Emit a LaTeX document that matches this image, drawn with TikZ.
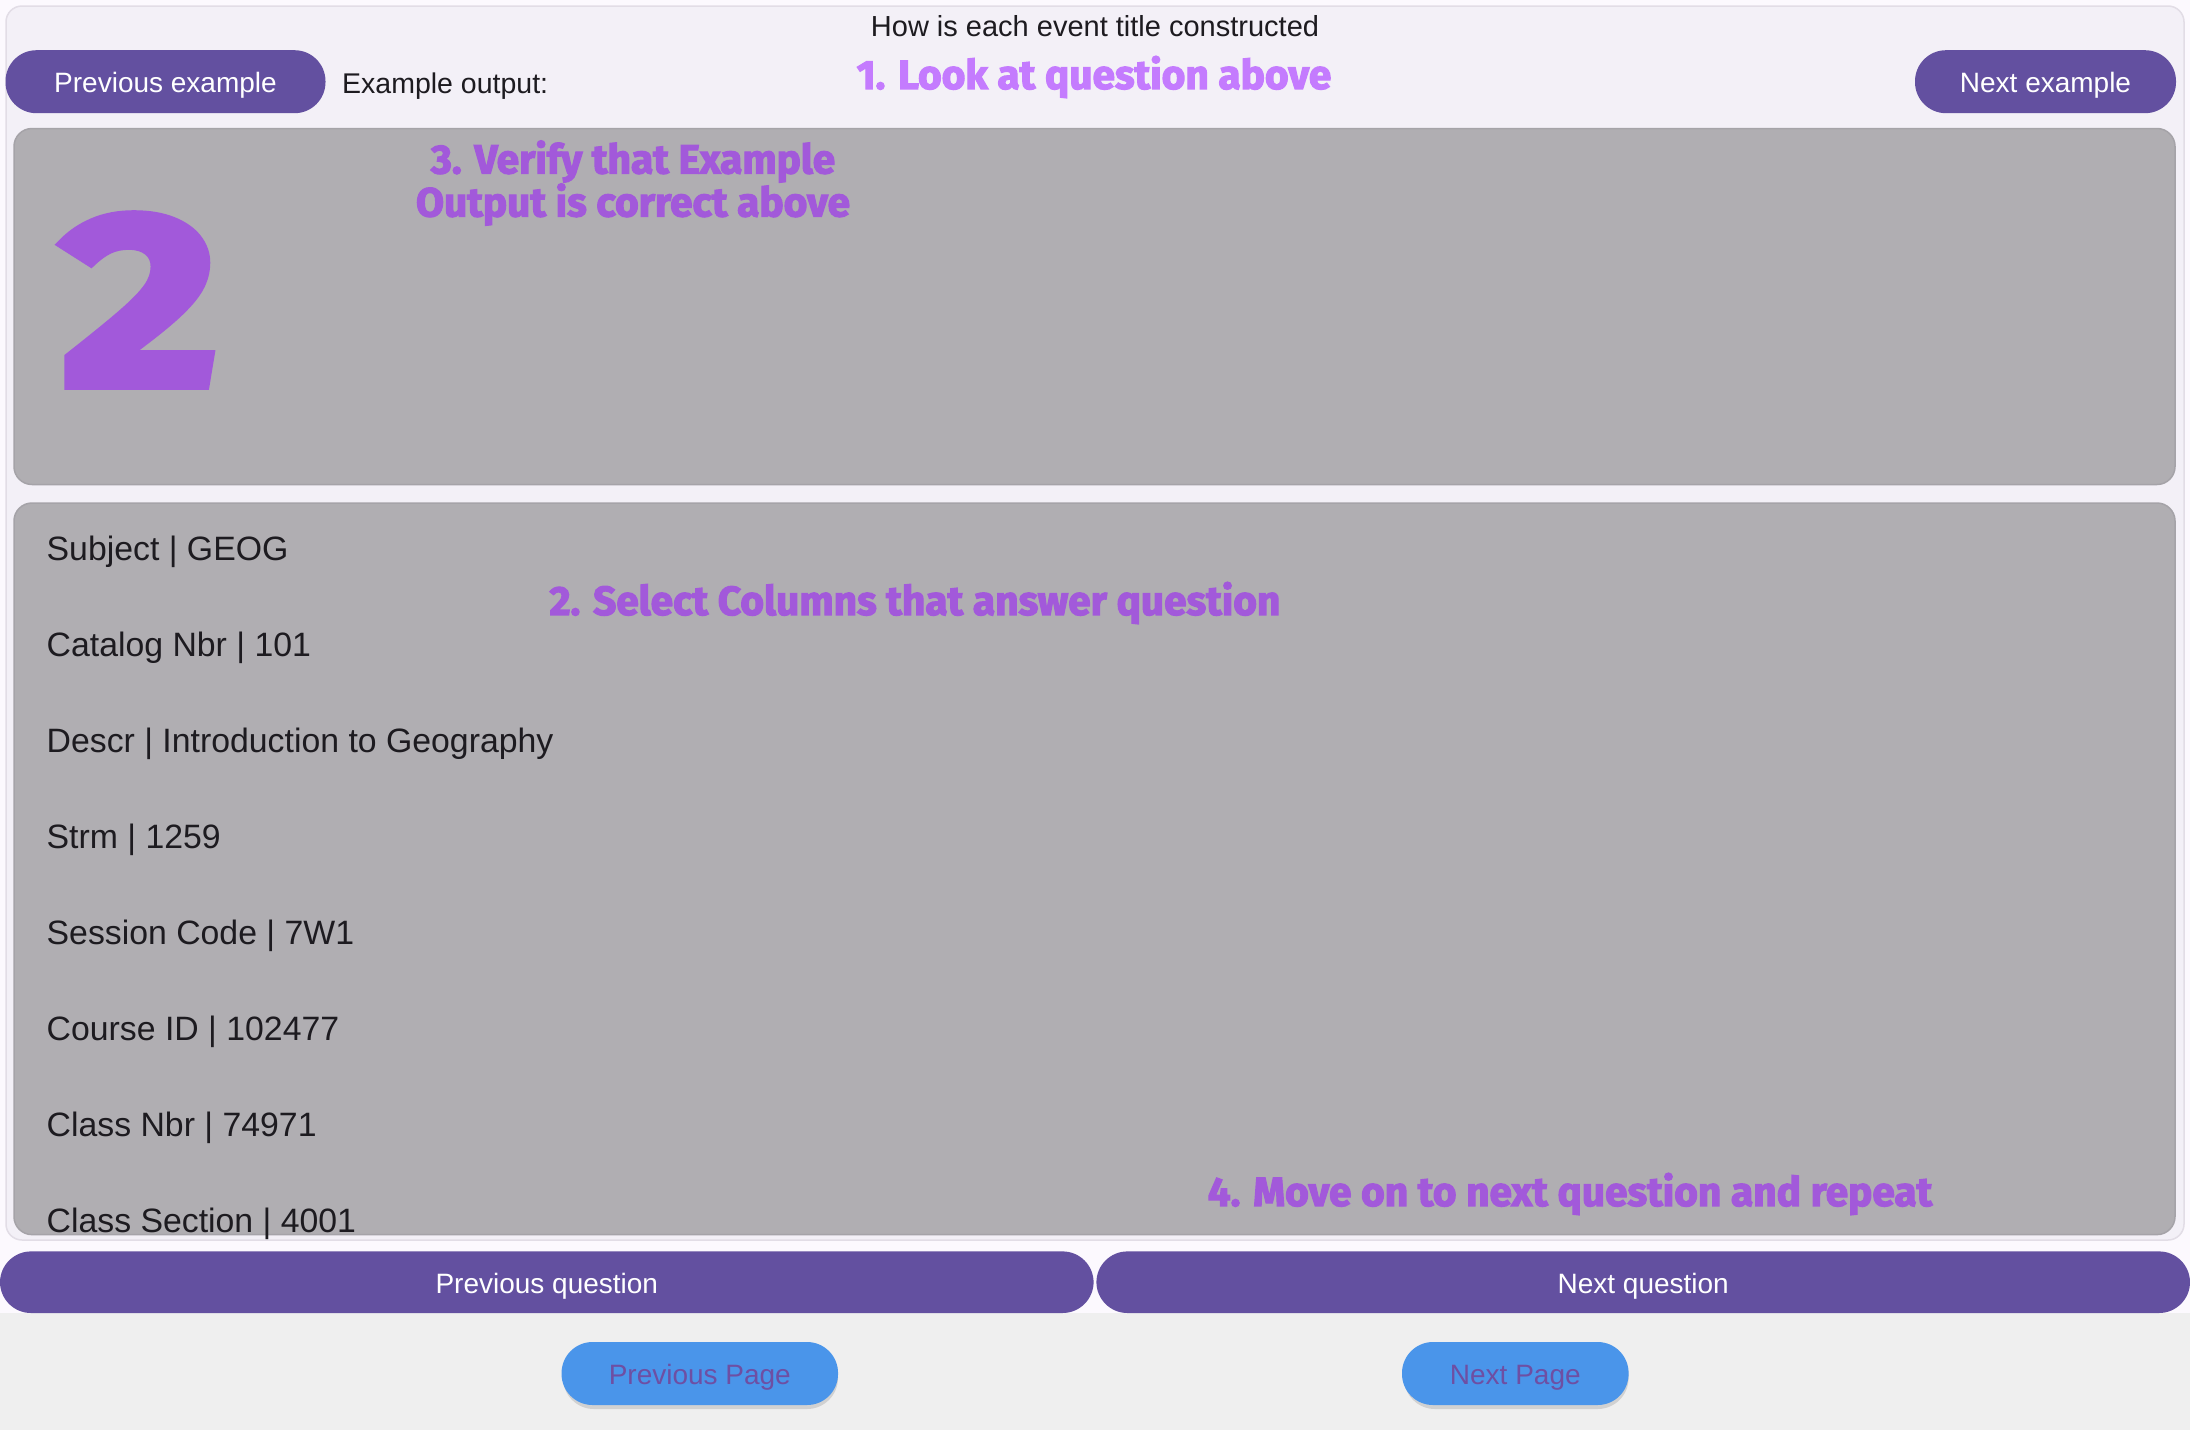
\documentclass[tikz,border=0pt]{standalone}
\usepackage{fontspec}
\setmainfont{Liberation Sans}
\newfontfamily\heavy{Fira Sans}[BoldFeatures={FakeBold=3}]
\newfontfamily\heavywide{Fira Sans}[BoldFeatures={FakeBold=4,FakeStretch=1.25}]
\definecolor{topbg}{HTML}{FCF9FE}
\definecolor{cardbg}{HTML}{F3F0F7}
\definecolor{cardline}{HTML}{E2DDE6}
\definecolor{panelbg}{HTML}{B0AEB2}
\definecolor{panelline}{HTML}{A5A3A8}
\definecolor{btn}{HTML}{6350A0}
\definecolor{ovl}{HTML}{A259DA}
\definecolor{ovllight}{HTML}{C47BFE}
\definecolor{botbg}{HTML}{EFEFEF}
\definecolor{pagebtn}{HTML}{4A95EA}
\definecolor{pagetxt}{HTML}{6E4FA3}
\definecolor{ink}{HTML}{1D1B20}
\tikzset{
  pill/.style={rectangle, rounded corners=31pt, fill=btn, text=white, inner sep=0pt,
    font=\fontsize{28}{32}\selectfont, text height=22pt, text depth=0pt},
  panelbox/.style={rectangle, rounded corners=18pt, fill=panelbg, draw=panelline, line width=1.5pt, inner sep=0pt},
  rowtext/.style={anchor=base west, text=ink, inner sep=0pt, font=\fontsize{33.8}{38}\selectfont},
  overlay/.style={text=ovl, inner sep=0pt, align=center, font=\heavy\bfseries\fontsize{40.6}{42}\selectfont},
  pagebox/.style={rectangle, rounded corners=31pt, fill=pagebtn, text=pagetxt, inner sep=0pt,
    font=\fontsize{28}{32}\selectfont, minimum height=63pt, text height=22pt, text depth=0pt},
}
\begin{document}
\begin{tikzpicture}[x=1pt,y=-1pt]
\useasboundingbox (0,0) rectangle (2190,1430);
% backgrounds
\fill[topbg] (0,0) rectangle (2190,1430);
\fill[botbg] (0,1313) rectangle (2190,1430);
\filldraw[fill=cardbg, draw=cardline, line width=1.5pt, rounded corners=16pt] (6,6) rectangle (2184,1240);
% header
\node[text=ink, inner sep=0pt, font=\fontsize{29}{32}\selectfont] (title) at (1095,26.5) {How is each event title constructed};
\node[pill, minimum width=320pt, minimum height=63pt] (prevex) at (165.5,81.7) {Previous example};
\node[anchor=base west, text=ink, inner sep=0pt, font=\fontsize{28.5}{32}\selectfont] (exout) at (342,93) {Example output:};
\node[pill, minimum width=261pt, minimum height=63pt] (nextex) at (2045.5,81.7) {Next example};
\node[overlay, text=ovllight] (look) at (1094,77) {1. Look at question above};
% example output panel
\node[panelbox, minimum width=2161pt, minimum height=356pt] (panelA) at (1094.5,306.5) {};
\node[overlay] (verify) at (633,183) {3. Verify that Example\\[1pt]Output is correct above};
\node[text=ovl, inner sep=0pt, font=\heavywide\bfseries\fontsize{246}{246}\selectfont] (big) at (140,300) {2};
% columns panel
\node[panelbox, minimum width=2161pt, minimum height=731.6pt] (panelB) at (1094.5,868.8) {};
\node[rowtext] (r1) at (46.5,560) {Subject | GEOG};
\node[rowtext] (r2) at (46.5,656) {Catalog Nbr | 101};
\node[rowtext] (r3) at (46.5,752) {Descr | Introduction to Geography};
\node[rowtext] (r4) at (46.5,848) {Strm | 1259};
\node[rowtext] (r5) at (46.5,944) {Session Code | 7W1};
\node[rowtext] (r6) at (46.5,1040) {Course ID | 102477};
\node[rowtext] (r7) at (46.5,1136) {Class Nbr | 74971};
\node[rowtext] (r8) at (46.5,1232) {Class Section | 4001};
\node[overlay] (select) at (915,603) {2. Select Columns that answer question};
\node[overlay] (move) at (1570,1194) {4. Move on to next question and repeat};
% question buttons
\node[pill, minimum width=1093.6pt, minimum height=61.6pt] (prevq) at (546.8,1282.2) {Previous question};
\node[pill, minimum width=1093.6pt, minimum height=61.6pt] (nextq) at (1643.2,1282.2) {Next question};
% page buttons
\fill[black!18, rounded corners=31pt] (563,1346) rectangle (838,1409);
\fill[black!18, rounded corners=31pt] (1404,1346) rectangle (1628.6,1409);
\node[pagebox, minimum width=276.5pt] (prevpg) at (699.8,1373.5) {Previous Page};
\node[pagebox, minimum width=226.6pt] (nextpg) at (1515.3,1373.5) {Next Page};
\end{tikzpicture}
\end{document}
